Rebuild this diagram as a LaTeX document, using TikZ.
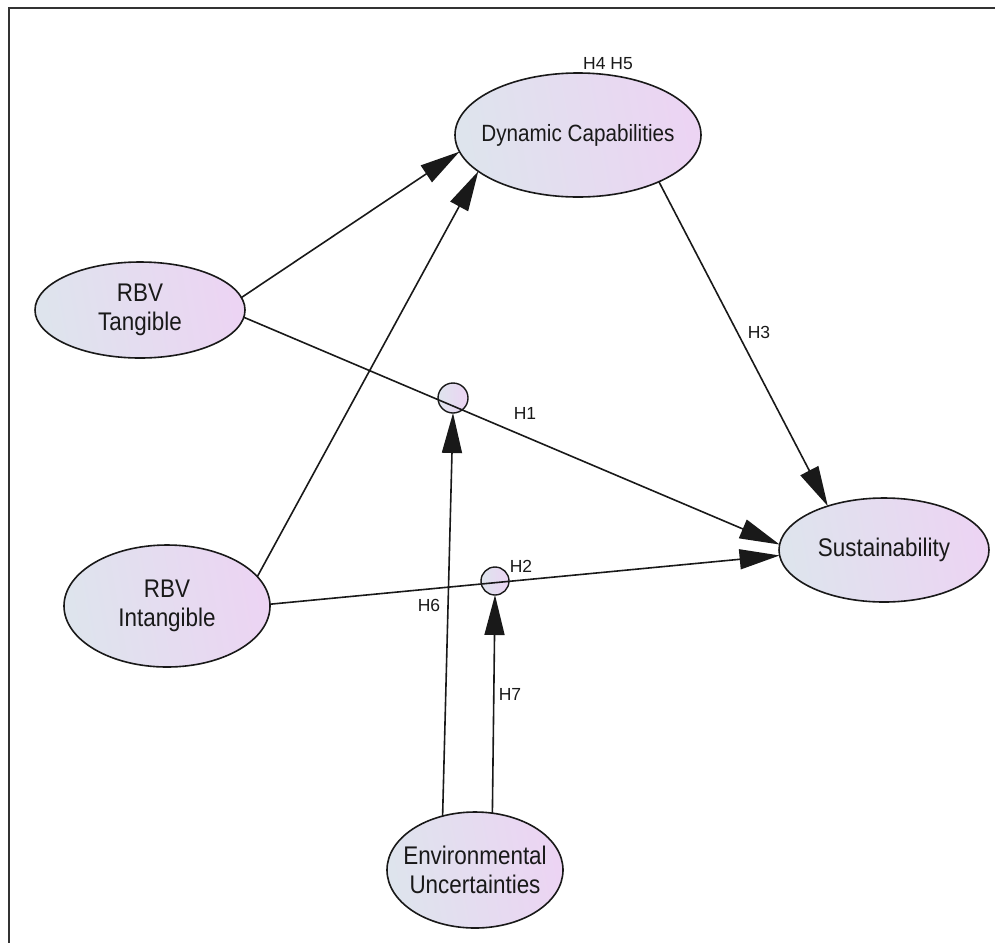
\documentclass[tikz,border=0pt]{standalone}
\usepackage{fontspec}
\setmainfont{Liberation Sans}
\newfontfamily\nodefont[FakeStretch=0.88]{Liberation Sans}
\usetikzlibrary{arrows.meta,shapes.geometric}
\definecolor{fillL}{RGB}{222,228,237}
\definecolor{fillR}{RGB}{236,212,243}
\definecolor{edgec}{RGB}{25,25,25}
\definecolor{txtc}{RGB}{25,25,25}
\tikzset{
  ell/.style={ellipse, draw=edgec, line width=1.6pt, inner sep=0pt, outer sep=0pt,
    left color=fillL, right color=fillR, shading angle=100},
  mod/.style={circle, draw=edgec, line width=1.4pt, inner sep=0pt, outer sep=0pt,
    left color=fillL, right color=fillR},
  ntxt/.style={text=txtc, align=center, font=\nodefont\fontsize{25.5}{29}\selectfont},
  hlab/.style={text=txtc, font=\fontsize{17.5}{19}\selectfont, inner sep=0pt},
  conn/.style={draw=edgec, line width=1.6pt, -{Triangle[length=40pt,width=20pt]}},
}
\begin{document}
\begin{tikzpicture}[x=1pt,y=-1pt]
\useasboundingbox (0,0) rectangle (995,943);
% frame
\draw[line width=2pt, draw=black!80] (995,7.5) -- (8.5,7.5) -- (8.5,943);
% constructs
\node[ell, minimum width=246pt, minimum height=124pt] (dc) at (578,135) {};
\node[ntxt, font=\nodefont\fontsize{23.5}{27}\selectfont] (dct) at (dc) {Dynamic Capabilities};
\node[ell, minimum width=210pt, minimum height=96pt] (tang) at (140,310) {};
\node[ntxt] (tangt) at (tang) {RBV\\Tangible};
\node[ell, minimum width=206pt, minimum height=122pt] (intan) at (167,606) {};
\node[ntxt] (intant) at (intan) {RBV\\Intangible};
\node[ell, minimum width=210pt, minimum height=104pt] (sust) at (884,550) {};
\node[ntxt] (sustt) at (sust) {Sustainability};
\node[ell, minimum width=176pt, minimum height=116pt] (env) at (475,870) {};
\node[ntxt] (envt) at (env) {Environmental\\Uncertainties};
% moderator circles
\node[mod, minimum size=30pt] (c1) at (453,398) {};
\node[mod, minimum size=28pt] (c2) at (495,581) {};
% connectors
\draw[conn] (tang.7) -- (dc.188);
\draw[conn] (intan.18.8) -- (dc.200.5);
\draw[conn] (dc.-30.5) -- (sust.142);
\draw[conn] (tang.-4.4) -- (sust.177.8);
\draw[conn] (intan.1.7) -- (sust.183.8);
\draw[conn] (env.121) -- (c1.south);
\draw[conn] (env.73) -- (c2.south);
% labels
\node[hlab] (l45) at (608,64) {H4 H5};
\node[hlab] (l3) at (759,332) {H3};
\node[hlab] (l1) at (525,413) {H1};
\node[hlab] (l2) at (521,566) {H2};
\node[hlab] (l6) at (429,605) {H6};
\node[hlab] (l7) at (510,694) {H7};
\end{tikzpicture}
\end{document}
